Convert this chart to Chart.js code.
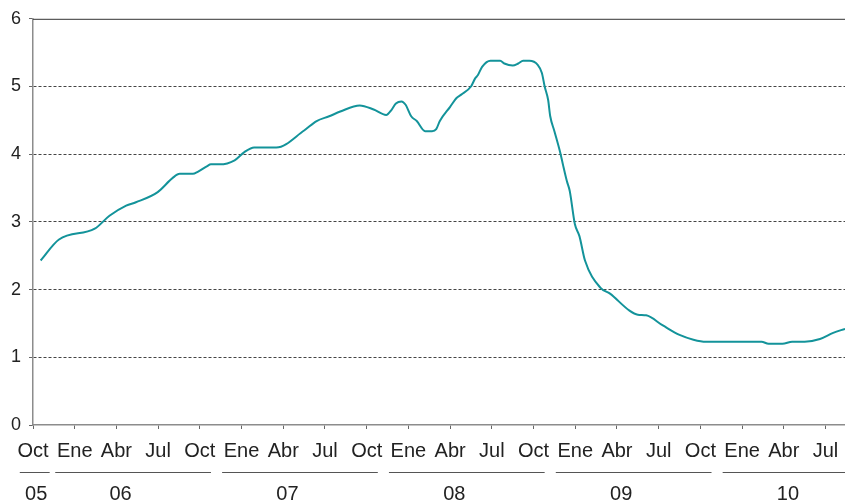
<!DOCTYPE html>
<html>
<head>
<meta charset="utf-8">
<script src="https://cdn.jsdelivr.net/npm/chart.js@4/dist/chart.umd.min.js"></script>
<style>
  html, body { margin: 0; padding: 0; background: #fff; }
  #wrap { width: 845px; height: 503px; }
</style>
</head>
<body>
<div id="wrap"><canvas id="tasaChart" width="845" height="503"></canvas></div>
<script>
// meses desde oct-05 (0 = oct 2005)
var meses = [0.55, 1.87, 4.44, 5.5, 6.7, 7.4, 8.97, 10.05, 10.55, 11.5, 11.85, 12.5, 12.8, 13.43,
    14.5, 15.2, 15.9, 17.5, 19.5, 20.4, 21.3, 22.1, 23.5, 24.5, 25.4, 25.8, 26.1, 26.5, 26.8,
    27.2, 27.6, 28.2, 28.7, 29.0, 29.26, 30.0, 30.46, 30.8, 31.5, 31.8, 32.0, 32.3, 32.9, 33.6,
    33.9, 34.5, 34.9, 35.25, 35.7, 36.3, 36.6, 36.8, 37.05, 37.2, 37.5, 37.9, 38.1, 38.4, 38.6,
    38.97, 39.3, 39.7, 40.8, 41.5, 42.9, 43.5, 44.1, 45.3, 46.5, 47.5, 48.4, 52.4, 52.9, 53.9,
    54.6, 55.5, 56.6, 57.55, 58.4]
var tasa = [2.43, 2.74, 2.90, 3.09, 3.24, 3.29, 3.44, 3.65, 3.71, 3.71, 3.74, 3.82, 3.85, 3.85,
    3.91, 4.03, 4.10, 4.10, 4.35, 4.49, 4.56, 4.63, 4.72, 4.66, 4.58, 4.66, 4.75, 4.78, 4.73,
    4.56, 4.49, 4.34, 4.34, 4.37, 4.49, 4.70, 4.83, 4.88, 5.00, 5.12, 5.17, 5.29, 5.38, 5.38,
    5.34, 5.31, 5.34, 5.38, 5.38, 5.32, 5.20, 5.00, 4.80, 4.56, 4.34, 4.04, 3.86, 3.60, 3.46,
    2.97, 2.79, 2.43, 2.03, 1.94, 1.69, 1.63, 1.62, 1.47, 1.33, 1.26, 1.23, 1.23, 1.20, 1.20,
    1.23, 1.23, 1.27, 1.36, 1.42]

var nombresTrim = ['Oct', 'Ene', 'Abr', 'Jul']
var anios = ['05', '06', '07', '08', '09', '10']
var eneroDeAnio = [0, 3, 15, 27, 39, 51]
var xMax = 58.4

var familia = "'Liberation Sans', Arial, sans-serif"
var fuenteX = { family: familia, size: 20 }
var fuenteY = { family: familia, size: 18 }
var colorTexto = '#222'

var puntos = meses.map(function (m, i) { return { x: m, y: tasa[i] } })

var marcoYAnios = {
    id: 'marcoYAnios',
    afterDraw: function (chart) {
        var ctx = chart.ctx
        var area = chart.chartArea
        var x = chart.scales.x
        ctx.save()
        // linea superior continua
        ctx.strokeStyle = '#333'
        ctx.lineWidth = 1
        ctx.beginPath()
        ctx.moveTo(area.left, area.top + 0.5)
        ctx.lineTo(area.right, area.top + 0.5)
        ctx.stroke()

        // etiquetas de anio
        ctx.strokeStyle = '#555'
        ctx.fillStyle = colorTexto
        ctx.font = fuenteX.size + 'px ' + familia
        ctx.textAlign = 'center'
        ctx.textBaseline = 'middle'
        anios.forEach(function (a, i) {
            var ene = eneroDeAnio[i]
            var ini, fin, centro
            if (i == 0) {
                ini = -0.95; fin = 1.2; centro = 0.23
            } else {
                ini = ene - 1.4; fin = Math.min(ene + 9.8, xMax); centro = ene + 3.3
            }
            var x1 = x.getPixelForValue(ini)
            var x2 = x.getPixelForValue(fin)
            ctx.beginPath()
            ctx.moveTo(x1, 472.5)
            ctx.lineTo(x2, 472.5)
            ctx.stroke()
            ctx.fillText(a, x.getPixelForValue(centro), 494)
        })
        ctx.restore()
    }
}

var canvas = document.getElementById('tasaChart')

var tasaChart = new Chart(canvas, {
    type: 'line',
    data: {
        datasets: [{
            data: puntos,
            borderColor: '#13939a',
            borderWidth: 2,
            pointRadius: 0,
            cubicInterpolationMode: 'monotone',
            fill: false
        }]
    },
    options: {
        responsive: false,
        animation: false,
        layout: { padding: { top: 17, right: 0, left: 0, bottom: 0 } },
        plugins: {
            legend: { display: false },
            tooltip: { enabled: false }
        },
        scales: {
            x: {
                type: 'linear',
                min: 0,
                max: xMax,
                afterBuildTicks: function (scale) {
                    var t = []
                    for (var v = 0; v <= 57; v += 3) t.push({ value: v })
                    scale.ticks = t
                },
                afterFit: function (scale) {
                    scale.height = 78
                    scale.paddingLeft = 0
                    scale.paddingRight = 0
                },
                ticks: {
                    maxRotation: 0,
                    autoSkip: false,
                    padding: 10,
                    color: colorTexto,
                    font: fuenteX,
                    callback: function (v) { return nombresTrim[Math.round(v / 3) % 4] }
                },
                grid: {
                    drawOnChartArea: false,
                    drawTicks: true,
                    tickLength: 4,
                    tickColor: '#666'
                },
                border: { color: '#8c8c8c', width: 1.5 }
            },
            y: {
                min: 0,
                max: 6,
                afterFit: function (scale) { scale.width = 33 },
                ticks: {
                    stepSize: 1,
                    padding: 8,
                    color: colorTexto,
                    font: fuenteY
                },
                grid: {
                    color: function (c) {
                        if (c.tick && (c.tick.value == 0 || c.tick.value == 6)) return 'rgba(0,0,0,0)'
                        return '#444'
                    },
                    tickColor: '#666',
                    tickLength: 4
                },
                border: { color: '#8c8c8c', width: 1.5, dash: [3, 2] }
            }
        }
    },
    plugins: [marcoYAnios]
})
</script>
</body>
</html>
